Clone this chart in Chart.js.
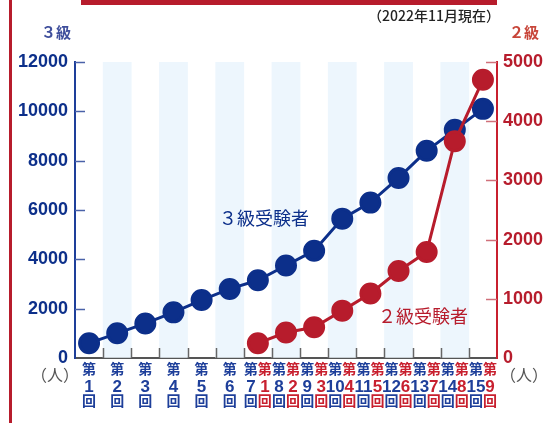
<!doctype html>
<html lang="ja">
  <head>
    <meta charset="utf-8">
    <script src="https://cdn.jsdelivr.net/npm/chart.js@4/dist/chart.umd.min.js"></script>
    <title>受験者数の推移</title>
    <style>
      html, body { margin: 0; padding: 0; background: #fff; }
    </style>
  </head>
  <body>
    <canvas id="examChart" width="554" height="423"></canvas>
  <script>
    // 回数 (3級: 第1回〜第15回, 2級: 3級第7回と同時に第1回〜)
    const rounds3 = ['1','2','3','4','5','6','7','8','9','10','11','12','13','14','15'];
    const rounds2 = [null,null,null,null,null,null,'1','2','3','4','5','6','7','8','9'];

    // 受験者数 (人)
    const grade3 = [600, 1000, 1400, 1850, 2350, 2800, 3150, 3750, 4350, 5650, 6300, 7300, 8400, 9250, 10100];
    const grade2 = [null, null, null, null, null, null, 250, 430, 520, 800, 1090, 1470, 1790, 3660, 4700];

    // 背景の縞
    const stripes = [null, 12000, null, 12000, null, 12000, null, 12000, null, 12000, null, 12000, null, 12000, null];

    const leftTicks = [0, 2000, 4000, 6000, 8000, 10000, 12000];
    const rightTicks = [0, 1000, 2000, 3000, 4000, 5000];

    const BLUE = '#0c2f8a';
    const RED = '#b71c2c';

    const decor = {
      id: 'decor',
      afterDraw(chart) {
        const ctx = chart.ctx;
        const area = chart.chartArea;
        const x = chart.scales.x;
        const y = chart.scales.y;
        const y1 = chart.scales.y1;
        ctx.save();

        // frame decoration
        ctx.fillStyle = '#b71c2c';
        ctx.fillRect(9, 0, 3, 423);
        ctx.fillRect(81, 0, area.right - 81, 5);

        // inward ticks
        ctx.lineWidth = 1.5;
        ctx.strokeStyle = '#4a62a8';
        leftTicks.forEach(v => {
          const py = Math.round(y.getPixelForValue(v)) + 0.5;
          if (v === 0) return;
          ctx.beginPath(); ctx.moveTo(area.left, py); ctx.lineTo(area.left + 10, py); ctx.stroke();
        });
        ctx.strokeStyle = '#d0707a';
        rightTicks.forEach(v => {
          const py = Math.round(y1.getPixelForValue(v)) + 0.5;
          if (v === 0) return;
          ctx.beginPath(); ctx.moveTo(area.right - 11, py); ctx.lineTo(area.right, py); ctx.stroke();
        });
        ctx.strokeStyle = '#666';
        const w = (area.right - area.left) / rounds3.length;
        for (let i = 1; i < rounds3.length; i++) {
          const px = Math.round(area.left + i * w) + 0.5;
          ctx.beginPath(); ctx.moveTo(px, area.bottom); ctx.lineTo(px, area.bottom - 10); ctx.stroke();
        }

        // x labels
        ctx.textAlign = 'center';
        ctx.textBaseline = 'middle';
        rounds3.forEach((r, i) => {
          const cx = x.getPixelForValue(i);
          const pair = rounds2[i] !== null;
          const bx = pair ? cx - 7 : cx;
          ctx.fillStyle = '#1e3f9a';
          ctx.font = 'bold 14px "Noto Sans CJK JP"';
          ctx.fillText('第', bx, 369);
          ctx.fillText('回', bx, 401);
          ctx.font = 'bold 17px "Liberation Sans Narrow", "Liberation Sans"';
          ctx.fillText(r, bx, 387);
          if (pair) {
            const rx = cx + 7;
            ctx.fillStyle = '#c8202f';
            ctx.font = 'bold 14px "Noto Sans CJK JP"';
            ctx.fillText('第', rx, 369);
            ctx.fillText('回', rx, 401);
            ctx.font = 'bold 17px "Liberation Sans Narrow", "Liberation Sans"';
            ctx.fillText(rounds2[i], rx, 387);
          }
        });

        // titles and notes
        ctx.font = 'bold 15px "Noto Sans CJK JP"';
        ctx.fillStyle = '#3f4f9c';
        ctx.fillText('３級', 56, 32);
        ctx.fillStyle = '#c8463a';
        ctx.fillText('２級', 524, 32);
        ctx.font = '500 14px "Noto Sans CJK JP"';
        ctx.fillStyle = '#222';
        ctx.textAlign = 'right';
        ctx.fillText('（2022年11月現在）', 500, 16);
        ctx.textAlign = 'center';
        ctx.font = '16px "Noto Sans CJK JP"';
        ctx.fillStyle = '#555';
        ctx.fillText('（人）', 55, 375);
        ctx.fillText('（人）', 524, 375);

        ctx.font = '18px "Noto Sans CJK JP"';
        ctx.textAlign = 'left';
        ctx.fillStyle = BLUE;
        ctx.fillText('３級受験者', 219, 218);
        ctx.fillStyle = RED;
        ctx.fillText('２級受験者', 378, 316);
        ctx.restore();
      }
    };

    new Chart(document.getElementById('examChart'), {
      data: {
        labels: rounds3,
        datasets: [
          {
            type: 'line',
            label: '３級受験者',
            data: grade3,
            yAxisID: 'y',
            borderColor: BLUE,
            backgroundColor: BLUE,
            borderWidth: 3,
            pointRadius: 9.5,
            pointHoverRadius: 9.5,
            tension: 0,
            order: 2
          },
          {
            type: 'line',
            label: '２級受験者',
            data: grade2,
            yAxisID: 'y1',
            borderColor: RED,
            backgroundColor: RED,
            borderWidth: 3,
            pointRadius: 9.5,
            pointHoverRadius: 9.5,
            tension: 0,
            order: 1
          },
          {
            type: 'bar',
            label: 'stripe',
            data: stripes,
            yAxisID: 'y',
            backgroundColor: '#edf6fd',
            barPercentage: 1,
            categoryPercentage: 1,
            order: 3
          }
        ]
      },
      options: {
        responsive: false,
        devicePixelRatio: 1,
        animation: false,
        layout: { padding: { top: 62, left: 0, right: 0, bottom: 0 } },
        plugins: { legend: { display: false }, tooltip: { enabled: false } },
        scales: {
          x: {
            offset: true,
            grid: { display: false },
            border: { color: '#555', width: 2 },
            ticks: { display: false },
            afterFit(scale) { scale.height = 65; }
          },
          y: {
            position: 'left',
            min: 0,
            max: 12000,
            afterBuildTicks(scale) { scale.ticks = leftTicks.map(v => ({ value: v })); },
            grid: { drawOnChartArea: false, drawTicks: false },
            border: { color: '#1e3f9a', width: 2 },
            ticks: {
              padding: 7,
              color: BLUE,
              callback: v => String(v),
              font: { family: '"Liberation Sans", Arial', size: 18, weight: 'bold' }
            },
            afterFit(scale) { scale.width = 75; }
          },
          y1: {
            position: 'right',
            min: 0,
            max: 5000,
            afterBuildTicks(scale) { scale.ticks = rightTicks.map(v => ({ value: v })); },
            grid: { drawOnChartArea: false, drawTicks: false },
            border: { color: '#c8202f', width: 2 },
            ticks: {
              padding: 6,
              color: RED,
              callback: v => String(v),
              font: { family: '"Liberation Sans", Arial', size: 18, weight: 'bold' }
            },
            afterFit(scale) { scale.width = 57; }
          }
        }
      },
      plugins: [decor]
    });
  </script>
  </body>
</html>
